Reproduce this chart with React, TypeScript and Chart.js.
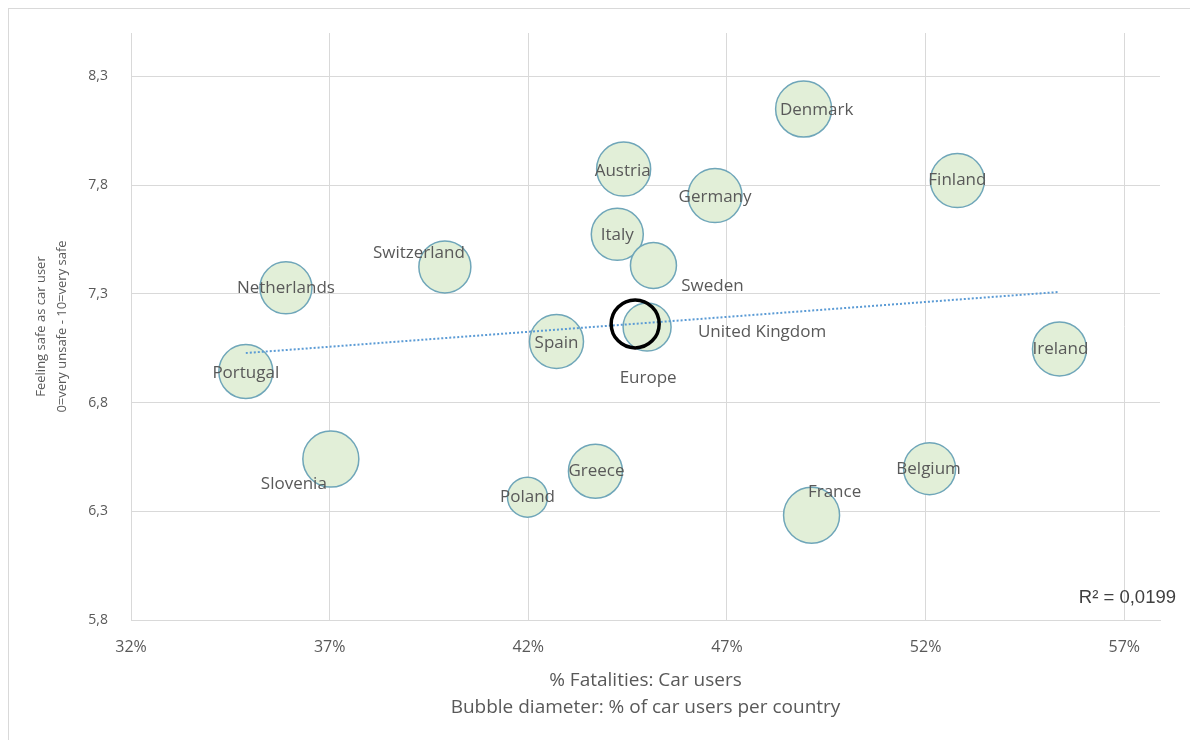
import React, { useEffect, useRef } from "react";
import { Chart, registerables } from "chart.js";

Chart.register(...registerables);

// ---- data ----
const countries = [
  "Denmark", "Austria", "Finland", "Germany", "Italy", "Switzerland", "Sweden",
  "Netherlands", "United Kingdom", "Spain", "Ireland", "Portugal", "Slovenia",
  "Greece", "Poland", "Belgium", "France",
];
const fatalitiesCarPct = [
  0.4893, 0.444, 0.528, 0.467, 0.4424, 0.399, 0.4515,
  0.359, 0.4499, 0.4271, 0.5537, 0.3489, 0.3703,
  0.4369, 0.4198, 0.5210, 0.4913,
];
const feelingSafe = [
  8.150, 7.874, 7.821, 7.752, 7.574, 7.424, 7.431,
  7.328, 7.148, 7.081, 7.047, 6.943, 6.540,
  6.484, 6.365, 6.496, 6.282,
];
const bubbleRadius = [
  28, 27, 27, 27, 26, 26, 23,
  26, 24, 27, 27, 27, 28,
  27, 20, 26, 28,
];
const europeLabel = "Europe";
const europeX = 0.4469;
const europeY = 7.162;
const europeRadius = 24;

const trendX = [0.3489, 0.5537];
const trendY = [7.028, 7.309];
const rSquaredText = "R² = 0,0199";

const xTickValues = [0.32, 0.37, 0.42, 0.47, 0.52, 0.57];
const yTickValues = [5.8, 6.3, 6.8, 7.3, 7.8, 8.3];

const xTitle = ["% Fatalities: Car users", "Bubble diameter: % of car users per country"];
const yTitle = ["Feeling safe as car user", "0=very unsafe - 10=very safe"];

// label placement (style config): offset of label centre from bubble centre, px
const labelOffsets: Record<string, [number, number]> = {
  Denmark: [13, 1],
  Austria: [-1, 2],
  Finland: [0, 0],
  Germany: [0, 2],
  Italy: [0, 1],
  Switzerland: [-26, -14],
  Sweden: [59, 21],
  Netherlands: [0, 0],
  "United Kingdom": [115, 5],
  Spain: [0, 2],
  Ireland: [1, 0],
  Portugal: [0, 2],
  Slovenia: [-37, 25],
  Greece: [1, 0],
  Poland: [0, 0],
  Belgium: [-1, 0],
  France: [23, -23],
  Europe: [13, 54],
};

const FONT = "'Open Sans', sans-serif";
const TEXT = "#595959";
const GRID = "#d9d9d9";

const labelPlugin = {
  id: "bubbleLabels",
  afterDatasetsDraw(chart: any) {
    const ctx = chart.ctx;
    ctx.save();
    ctx.font = `17px ${FONT}`;
    ctx.fillStyle = TEXT;
    ctx.textAlign = "center";
    ctx.textBaseline = "middle";
    const meta = chart.getDatasetMeta(2);
    meta.data.forEach((el: any, i: number) => {
      const name = countries[i];
      const [dx, dy] = labelOffsets[name] || [0, 0];
      ctx.fillText(name, el.x + dx, el.y + dy);
    });
    const eMeta = chart.getDatasetMeta(0);
    const e = eMeta.data[0];
    if (e) {
      const [dx, dy] = labelOffsets[europeLabel];
      ctx.fillText(europeLabel, e.x + dx, e.y + dy);
    }
    const area = chart.chartArea;
    ctx.font = `18.5px 'Liberation Sans', Arial, sans-serif`;
    ctx.fillStyle = "#404040";
    ctx.textAlign = "right";
    ctx.fillText(rSquaredText, area.right + 16, area.bottom - 22);
    ctx.restore();
  },
};

export default function App() {
  const ref = useRef<HTMLCanvasElement>(null);

  useEffect(() => {
    if (!ref.current) return;
    Chart.defaults.font.family = FONT;
    const chart = new Chart(ref.current, {
      type: "bubble",
      data: {
        datasets: [
          {
            type: "bubble",
            label: europeLabel,
            data: [{ x: europeX, y: europeY, r: europeRadius }],
            backgroundColor: "rgba(0,0,0,0)",
            borderColor: "#000000",
            borderWidth: 3.5,
          },
          {
            type: "line",
            label: "Trend",
            data: trendX.map((x, i) => ({ x, y: trendY[i] })),
            borderColor: "#5b9bd5",
            borderWidth: 2,
            borderDash: [2, 2],
            pointRadius: 0,
            fill: false,
          } as any,
          {
            type: "bubble",
            label: "Countries",
            data: countries.map((_, i) => ({
              x: fatalitiesCarPct[i],
              y: feelingSafe[i],
              r: bubbleRadius[i],
            })),
            backgroundColor: "#e2efd8",
            borderColor: "#6fa6b9",
            borderWidth: 1.5,
          },
        ],
      },
      options: {
        responsive: false,
        animation: false,
        events: [],
        layout: { autoPadding: false, padding: { left: 0, top: 24, right: 37, bottom: 0 } },
        plugins: {
          legend: { display: false },
          tooltip: { enabled: false },
        },
        scales: {
          x: {
            type: "linear",
            position: "bottom",
            min: 0.32,
            max: 0.579,
            afterBuildTicks: (s: any) => {
              s.ticks = xTickValues.map((v) => ({ value: v }));
            },
            afterFit: (s: any) => {
              s.height = 119;
              s.paddingLeft = 0;
              s.paddingRight = 0;
            },
            grid: { color: GRID, drawTicks: false, lineWidth: 1 },
            border: { color: GRID },
            ticks: {
              padding: 18,
              color: TEXT,
              font: { size: 16 },
              callback: (v: any) => Math.round(Number(v) * 100) + "%",
            },
            title: {
              display: true,
              text: xTitle,
              color: TEXT,
              font: { size: 19, lineHeight: 1.42 },
              padding: { top: 0, bottom: 18 },
            },
          },
          y: {
            type: "linear",
            position: "left",
            min: 5.8,
            max: 8.5,
            afterBuildTicks: (s: any) => {
              s.ticks = yTickValues.map((v) => ({ value: v }));
            },
            afterFit: (s: any) => {
              s.width = 122;
              s.paddingTop = 0;
              s.paddingBottom = 0;
            },
            grid: { color: GRID, drawTicks: false, lineWidth: 1 },
            border: { color: GRID },
            ticks: {
              padding: 23,
              color: TEXT,
              font: { size: 14 },
              callback: (v: any) => Number(v).toFixed(1).replace(".", ","),
            },
            title: {
              display: true,
              text: yTitle,
              color: TEXT,
              font: { size: 13, lineHeight: 1.6 },
              padding: { top: 22, bottom: 0 },
            },
          },
        },
      },
      plugins: [labelPlugin],
    } as any);
    return () => chart.destroy();
  }, []);

  return (
    <div
      style={{
        width: 1190,
        height: 740,
        border: "1px solid #d9d9d9",
        boxSizing: "border-box",
        background: "#fff",
      }}
    >
      <canvas ref={ref} width={1188} height={730} style={{ display: "block", width: 1188, height: 730 }} />
    </div>
  );
}
